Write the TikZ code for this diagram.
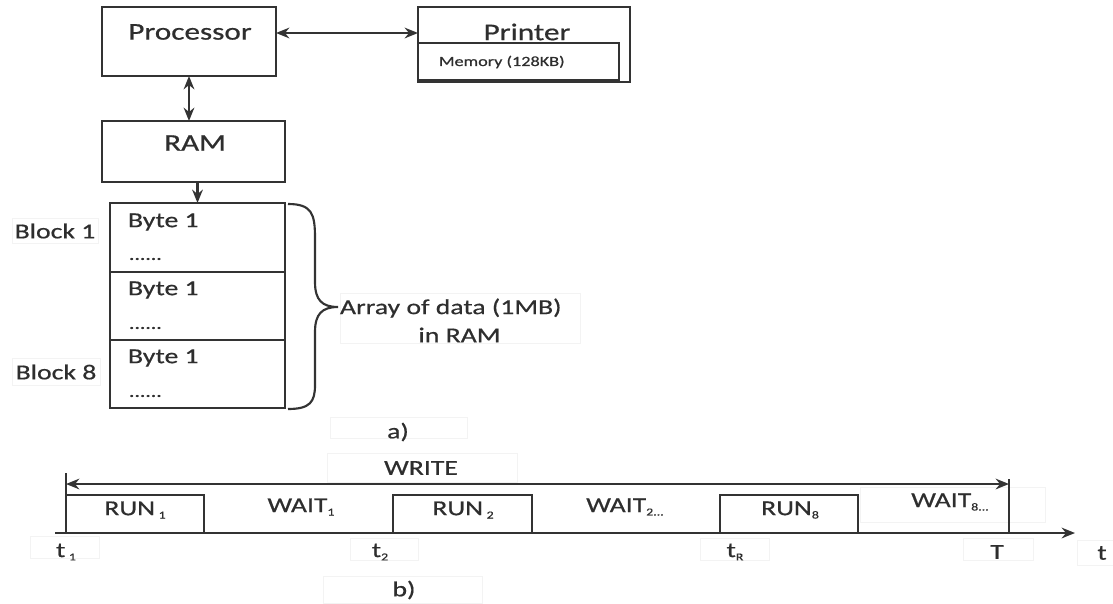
\documentclass[tikz,border=0pt]{standalone}
\usepackage{fontspec}
\setmainfont{Carlito}[FakeStretch=1.3,FakeBold=0.6]
\usetikzlibrary{arrows.meta,calc}
\definecolor{ln}{HTML}{333333}
\definecolor{tx}{HTML}{2E2E2E}
\definecolor{faint}{HTML}{F3F3F3}
\newcommand{\sbs}[1]{\raisebox{-2.5pt}{\fontsize{8}{8}\selectfont #1}}
\begin{document}
\begin{tikzpicture}[x=0.75pt,y=-0.75pt,
  every node/.style={text=tx,inner sep=0pt,outer sep=0pt},
  box/.style={draw=ln,line width=1.6pt,fill=white},
  lbl/.style={font=\fontsize{16}{19}\selectfont},
  big/.style={font=\fontsize{18}{21}\selectfont},
  fbox/.style={draw=faint,line width=0.6pt,fill=white},
  conn/.style={draw=ln,line width=1.6pt},
  tip/.style={-{Stealth[length=10pt,width=8pt]}},
  tips/.style={{Stealth[length=10pt,width=8pt]}-{Stealth[length=10pt,width=8pt]}}]
\useasboundingbox (0,0) rectangle (1113,603);
\fill[white] (0,0) rectangle (1113,603);

% faint label boxes
\node[fbox,minimum width=86*0.75pt,minimum height=25*0.75pt] (fb1) at (55,230.5) {};
\node[fbox,minimum width=88*0.75pt,minimum height=27*0.75pt] (fb8) at (56,371.5) {};
\node[fbox,minimum width=240*0.75pt,minimum height=50*0.75pt] (farr) at (460,318) {};
\node[fbox,minimum width=137*0.75pt,minimum height=21*0.75pt] (fa) at (398.5,427.5) {};
\node[fbox,minimum width=190*0.75pt,minimum height=29*0.75pt] (fw) at (422,467.5) {};
\node[fbox,minimum width=185*0.75pt,minimum height=35*0.75pt] (fw8) at (952.5,504.5) {};
\node[fbox,minimum width=69*0.75pt,minimum height=22*0.75pt] (ft1) at (64.5,547) {};
\node[fbox,minimum width=68*0.75pt,minimum height=22*0.75pt] (ft2) at (384,549) {};
\node[fbox,minimum width=69*0.75pt,minimum height=22*0.75pt] (ftr) at (734.5,549) {};
\node[fbox,minimum width=70*0.75pt,minimum height=22*0.75pt] (fT) at (998,549) {};
\node[fbox,minimum width=40*0.75pt,minimum height=25*0.75pt] (ft) at (1097,552.5) {};
\node[fbox,minimum width=159*0.75pt,minimum height=27*0.75pt] (fb) at (402.5,589.5) {};

% top boxes
\node[box,minimum width=174*0.75pt,minimum height=69*0.75pt] (proc) at (189,41.5) {};
\node[big] (proct) at (190,32) {Processor};
\node[box,minimum width=212*0.75pt,minimum height=75*0.75pt] (printer) at (524,44.5) {};
\node[big] (printt) at (527,32) {Printer};
\node[box,minimum width=201*0.75pt,minimum height=37*0.75pt] (mem) at (518.5,61.5) {};
\node[font=\fontsize{10.5}{12}\selectfont,anchor=west] (memt) at (439,62) {Memory (128KB)};
\node[box,minimum width=183*0.75pt,minimum height=61*0.75pt] (ram) at (193.5,151.5) {};
\node[big] (ramt) at (195,143) {RAM};

\coordinate (pa) at (0,33);
\draw[conn,tips] (proc.east |- pa) -- (printer.west |- pa);
\draw[conn,tips] (proc.south) -- (proc.south |- ram.north);

% blocks
\node[box,minimum width=175*0.75pt,minimum height=69*0.75pt] (blk1) at (197.5,237.5) {};
\node[box,minimum width=175*0.75pt,minimum height=68*0.75pt] (blk2) at (197.5,306) {};
\node[box,minimum width=175*0.75pt,minimum height=68*0.75pt] (blk8) at (197.5,374) {};
\draw[conn,tip] (ram.south -| blk1.north) -- (blk1.north);

\foreach \n/\y in {a/222,b/290,c/358}{
  \node[lbl,anchor=west] (byte\n) at (128,\y) {Byte 1};}
\foreach \n/\y in {a/259,b/328,c/396}{
  \node[font=\fontsize{12.5}{13}\selectfont,anchor=west] (dots\n) at (129,\y) {......};}
\node[lbl] (lb1) at (55,231) {Block 1};
\node[lbl] (lb8) at (56,372) {Block 8};

% brace
\coordinate (br1) at (288,204);
\coordinate (brt) at (338,307);
\coordinate (br2) at (288,409);
\draw[ln,line width=1.6pt] (br1) .. controls (312,204) and (315,214) .. (315,238)
  -- (315,282) .. controls (315,300) and (322,307) .. (brt)
  .. controls (322,307) and (315,314) .. (315,332)
  -- (315,385) .. controls (315,402) and (310,409) .. (br2);
\node[lbl,anchor=west] (arr1) at (340,308) {Array of data (1MB)};
\node[lbl] (arr2) at (459.5,335) {in RAM};
\node[lbl] (la) at (398,432) {a)};

% timeline
\coordinate (ax0) at (55,533);
\coordinate (ax1) at (1075,533);
\node[box,minimum width=138*0.75pt,minimum height=38*0.75pt] (run1) at (135,514) {};
\node[box,minimum width=139*0.75pt,minimum height=38*0.75pt] (run2) at (462.5,514) {};
\node[box,minimum width=138*0.75pt,minimum height=38*0.75pt] (run8) at (789,514) {};
\draw[conn,tip] (ax0) -- (ax1);
\coordinate (tk1) at (66,473);
\coordinate (tk2) at (1009,479);
\draw[conn] (tk1) -- (tk1 |- ax0);
\draw[conn] (tk2) -- (tk2 |- ax0);
\coordinate (wa) at (0,484);
\draw[conn,tips] (tk1 |- wa) -- (tk2 |- wa);

\node[lbl] (w) at (421,468) {WRITE};
\node[lbl] (r1t) at (135,510) {RUN\,\sbs{1}};
\node[lbl] (w1t) at (301,507) {WAIT\sbs{1}};
\node[lbl] (r2t) at (463,510) {RUN\,\sbs{2}};
\node[lbl] (w2t) at (625,507) {WAIT\sbs{2...}};
\node[lbl] (r8t) at (790,510) {RUN\sbs{8}};
\node[lbl] (w8t) at (950,502) {WAIT\sbs{8...}};
\node[lbl] (t1) at (66,552) {t\,\sbs{1}};
\node[lbl] (t2) at (380,552) {t\sbs{2}};
\node[lbl] (tr) at (735,552) {t\sbs{R}};
\node[lbl] (tT) at (997,552) {T};
\node[lbl] (tt) at (1102,553) {t};
\node[lbl] (lb) at (404,590) {b)};
\end{tikzpicture}
\end{document}
